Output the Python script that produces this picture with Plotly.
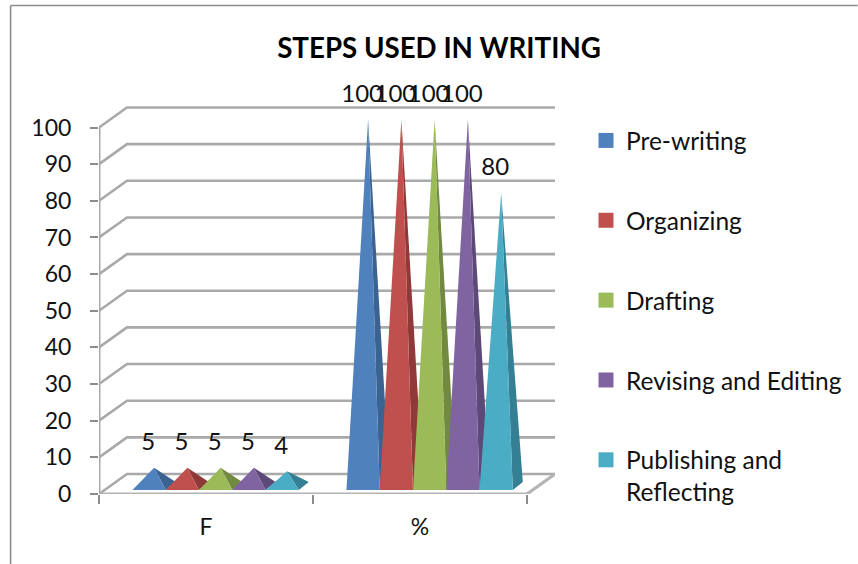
import plotly.graph_objects as go

# Chart data
categories = ["F", "%"]
series_names = ["Pre-writing", "Organizing", "Drafting", "Revising and Editing", "Publishing and<br>Reflecting"]
series_f = [5, 5, 5, 5, 4]
series_pct = [100, 100, 100, 100, 80]
y_ticks = [0, 10, 20, 30, 40, 50, 60, 70, 80, 90, 100]

front_colors = ["#4f81bd", "#c0504d", "#9bbb59", "#8064a2", "#4bacc6"]
side_colors = ["#3a6391", "#8f3a38", "#728a40", "#5d4978", "#347f93"]

# Pixel geometry of the oblique plot box
W, H = 858, 564
LEFT, RIGHT, BASE_Y, TOP = 98.5, 555.0, 494.0, 60.0
PX_PER_UNIT = 3.665
PX_PER_CAT = 214.25
WALL_DX, WALL_DY = 28.0, 20.0
FONT = "Lato"
GRID = "#a9a9a9"


def ux(px):
    return px / PX_PER_CAT


def uy(px):
    return px / PX_PER_UNIT


X_MAX = (RIGHT - LEFT) / PX_PER_CAT
Y_MAX = (BASE_Y - TOP) / PX_PER_UNIT

# Pyramid footprint, relative to each category slot
SLOT_GAP = ux(33.5)
PYR_W = ux(33.3)
FRONT_RISE = uy(4)
DEPTH_X, DEPTH_Y = ux(10), uy(8)

fig = go.Figure()


def grid_line(xs, ys, color=GRID, width=2.6):
    fig.add_trace(go.Scatter(x=xs, y=ys, mode="lines", cliponaxis=False, showlegend=False,
                             hoverinfo="skip", line=dict(color=color, width=width)))


# Walls and floor
for v in y_ticks:
    grid_line([0, ux(WALL_DX), X_MAX], [v, v + uy(WALL_DY), v + uy(WALL_DY)])
grid_line([0, 0], [0, 100], width=3)
grid_line([0, 2, X_MAX], [0, 0, uy(WALL_DY)], color="#b4b4b4", width=3.2)

# Pyramids: a side face and a front face per value
for s, name in enumerate(series_names):
    for c, v in enumerate([series_f[s], series_pct[s]]):
        x0 = c + SLOT_GAP + s * PYR_W
        x1 = x0 + PYR_W
        peak_x = (x0 + x1) / 2 + DEPTH_X / 2
        peak_y = FRONT_RISE + DEPTH_Y / 2 + v
        fig.add_trace(go.Scatter(
            x=[x1, x1 + DEPTH_X, peak_x, x1], y=[FRONT_RISE, FRONT_RISE + DEPTH_Y, peak_y, FRONT_RISE],
            mode="lines", fill="toself", fillcolor=side_colors[s], line=dict(width=0),
            showlegend=False, hoverinfo="skip"))
        fig.add_trace(go.Scatter(
            x=[x0, x1, peak_x, x0], y=[FRONT_RISE, FRONT_RISE, peak_y, FRONT_RISE],
            mode="lines", fill="toself", fillcolor=front_colors[s], line=dict(width=0),
            showlegend=False, hoverinfo="text", text=f"{name}: {v}"))

# Value labels sit above and slightly left of each peak
for s in range(len(series_names)):
    for c, v in enumerate([series_f[s], series_pct[s]]):
        x0 = c + SLOT_GAP + s * PYR_W
        fig.add_trace(go.Scatter(
            x=[x0 + PYR_W / 2 + DEPTH_X / 2 - ux(6)], y=[v + uy(31.5)],
            mode="text", text=[str(v)], textposition="middle center", cliponaxis=False,
            textfont=dict(family=FONT, size=24, color="#111111"),
            showlegend=False, hoverinfo="skip"))

# Legend swatches
for s, name in enumerate(series_names):
    fig.add_trace(go.Scatter(
        x=[None], y=[None], mode="markers", name=name, legendgroup=name,
        marker=dict(symbol="square", size=15, color=front_colors[s])))


def fx(px):
    return (px - LEFT) / (RIGHT - LEFT)


def fy(py):
    return (BASE_Y - py) / (BASE_Y - TOP)


# Outer chart border: top and left edges only
fig.add_shape(type="line", xref="paper", yref="paper", x0=fx(10), x1=fx(10), y0=fy(564), y1=fy(5.5),
              line=dict(color="#8c8c8c", width=1.6))
fig.add_shape(type="line", xref="paper", yref="paper", x0=fx(10), x1=fx(858), y0=fy(5.5), y1=fy(5.5),
              line=dict(color="#8c8c8c", width=1.6))

fig.update_layout(
    width=W, height=H, autosize=False,
    margin=dict(l=LEFT, r=W - RIGHT, t=TOP, b=H - BASE_Y, pad=0),
    paper_bgcolor="white", plot_bgcolor="white",
    font=dict(family=FONT, color="#111111", size=22),
    title=dict(text="<b>STEPS USED IN WRITING</b>", x=439 / W, xanchor="center",
               y=1 - 48 / H, yanchor="middle", font=dict(family=FONT, size=27.7, color="#000000")),
    xaxis=dict(range=[0, X_MAX], tickmode="array", tickvals=[0.5, 1.5], ticktext=categories,
               showgrid=False, zeroline=False, showline=False, ticks="", ticklabelstandoff=17,
               tickfont=dict(family=FONT, size=23),
               minor=dict(tickmode="array", tickvals=[0, 1, 2], ticks="outside", ticklen=9,
                          tickcolor="#8c8c8c", tickwidth=1.5, showgrid=False)),
    yaxis=dict(range=[0, Y_MAX], tickmode="array", tickvals=y_ticks,
               showgrid=False, zeroline=False, showline=False, ticks="outside", ticklen=8,
               tickcolor="#8c8c8c", tickwidth=1.5, ticklabelstandoff=14,
               tickfont=dict(family=FONT, size=23)),
    legend=dict(x=586 / W, xref="container", y=1 - 118 / H, yref="container", yanchor="top", xanchor="left",
                tracegroupgap=45, itemsizing="trace", valign="top", bgcolor="rgba(0,0,0,0)", maxheight=440,
                font=dict(family=FONT, size=24.5, color="#111111")),
)

fig.write_html("out.html")
